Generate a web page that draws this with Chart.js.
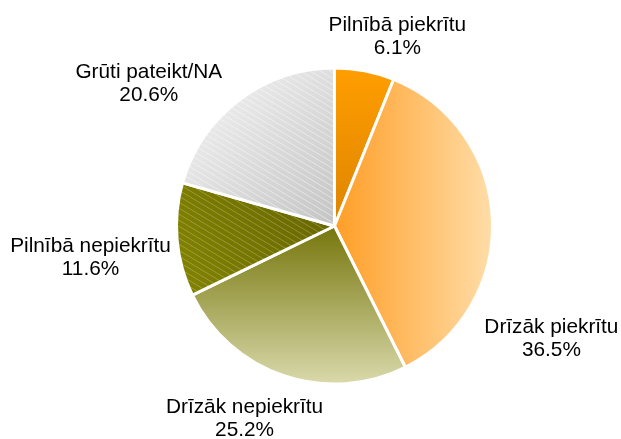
<!DOCTYPE html>
<html><head><meta charset="utf-8">
<script src="https://cdn.jsdelivr.net/npm/chart.js@4/dist/chart.umd.min.js"></script>
<style>html,body{margin:0;padding:0;background:#fff;}#wrap{width:621px;height:439px;}</style>
</head><body><div id="wrap"><canvas id="c" width="621" height="439"></canvas></div>
<script>
// ---- data ----
const categories = ['Pilnībā piekrītu', 'Drīzāk piekrītu', 'Drīzāk nepiekrītu', 'Pilnībā nepiekrītu', 'Grūti pateikt/NA'];
const shares = [6.1, 36.5, 25.2, 11.6, 20.6];
const valueLabels = ['6.1%', '36.5%', '25.2%', '11.6%', '20.6%'];

// ---- style / layout ----
const hatched = [false, false, false, true, true];
const hatchAlpha = [0, 0, 0, 0.24, 0.45];
// label placement: angle (deg, clockwise from top) and distance as multiple of radius
const labelPlace = [
  {a: 18.9, k: 1.229},
  {a: 118.7, k: 1.565},
  {a: 204.4, k: 1.378},
  {a: 261.3, k: 1.562},
  {a: 306.4, k: 1.46}
];

function geom(chart) {
  const ca = chart.chartArea;
  const cx = (ca.left + ca.right) / 2, cy = (ca.top + ca.bottom) / 2;
  const r = Math.min(ca.right - ca.left, ca.bottom - ca.top) / 2;
  return {cx, cy, r};
}
function makeFill(context) {
  const chart = context.chart;
  const ctx = chart.ctx;
  if (!chart.chartArea) return '#999';
  const {cx, cy, r} = geom(chart);
  let g;
  switch (context.dataIndex) {
    case 0:
      g = ctx.createLinearGradient(0, cy - r, 0, cy);
      g.addColorStop(0, '#FF9E00'); g.addColorStop(1, '#DE8400');
      return g;
    case 1:
      g = ctx.createLinearGradient(cx, 0, cx + r, 0);
      g.addColorStop(0, '#FF9E26'); g.addColorStop(1, '#FFDEAA');
      return g;
    case 2:
      g = ctx.createLinearGradient(0, cy, 0, cy + r);
      g.addColorStop(0, '#76760C'); g.addColorStop(1, '#DADAAD');
      return g;
    case 3:
      g = ctx.createLinearGradient(cx - r, cy + r * 0.3, cx, cy - r * 0.1);
      g.addColorStop(0, '#828200'); g.addColorStop(1, '#666600');
      return g;
    default:
      g = ctx.createLinearGradient(cx - r * 0.8, cy - r * 0.8, cx, cy);
      g.addColorStop(0, '#EEEEEE'); g.addColorStop(1, '#C4C4C4');
      return g;
  }
}

const hatchPlugin = {
  id: 'hatch',
  afterDatasetsDraw(chart) {
    const meta = chart.getDatasetMeta(0);
    const ctx = chart.ctx;
    meta.data.forEach((arc, i) => {
      if (!hatched[i]) return;
      const {x, y, outerRadius, startAngle, endAngle} = arc.getProps(['x', 'y', 'outerRadius', 'startAngle', 'endAngle'], true);
      ctx.save();
      ctx.beginPath();
      ctx.moveTo(x, y);
      ctx.arc(x, y, outerRadius - 1.5, startAngle, endAngle);
      ctx.closePath();
      ctx.clip();
      ctx.strokeStyle = 'rgba(255,255,255,' + hatchAlpha[i] + ')';
      ctx.lineWidth = 1;
      const R = outerRadius * 1.6;
      const slope = 0.6;
      for (let t = -3 * R; t <= 3 * R; t += 6) {
        ctx.beginPath();
        ctx.moveTo(x - R, y + t - R * slope);
        ctx.lineTo(x + R, y + t + R * slope);
        ctx.stroke();
      }
      ctx.restore();
    });
  }
};

const labelPlugin = {
  id: 'outLabels',
  afterDraw(chart) {
    const meta = chart.getDatasetMeta(0);
    const ctx = chart.ctx;
    ctx.save();
    ctx.font = '20.8px "Liberation Sans", Arial, sans-serif';
    ctx.fillStyle = '#000';
    ctx.textAlign = 'center';
    ctx.textBaseline = 'alphabetic';
    meta.data.forEach((arc, i) => {
      const {x, y, outerRadius} = arc.getProps(['x', 'y', 'outerRadius'], true);
      const p = labelPlace[i];
      const a = p.a * Math.PI / 180;
      const lx = x + p.k * outerRadius * Math.sin(a);
      const ly = y - p.k * outerRadius * Math.cos(a);
      ctx.fillText(chart.data.labels[i], lx, ly - 11.5);
      ctx.fillText(valueLabels[i], lx, ly + 11.5);
    });
    ctx.restore();
  }
};

new Chart(document.getElementById('c'), {
  type: 'pie',
  data: {
    labels: categories,
    datasets: [{
      data: shares,
      backgroundColor: makeFill,
      borderColor: '#FFFFFF',
      borderWidth: 3
    }]
  },
  options: {
    responsive: false,
    devicePixelRatio: 1,
    animation: false,
    layout: {padding: {left: 175, right: 127, top: 66, bottom: 53}},
    plugins: {legend: {display: false}, tooltip: {enabled: false}}
  },
  plugins: [hatchPlugin, labelPlugin]
});
</script>
</body></html>
